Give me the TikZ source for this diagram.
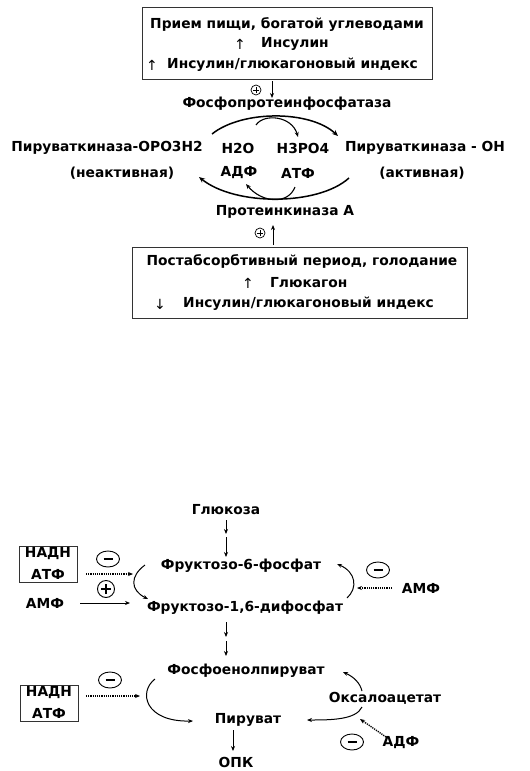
\documentclass[tikz,border=0pt]{standalone}
\usepackage{fontspec}
\setmainfont{DejaVu Sans}
\usetikzlibrary{arrows.meta,shapes.geometric}
\tikzset{
  lbl/.style={font=\fontsize{13.8}{15}\selectfont\bfseries, inner sep=0pt, anchor=center},
  box/.style={draw=black!80, line width=0.9pt, inner sep=0pt},
  arr/.style={-{Stealth[length=5pt,width=4pt]}, line width=0.8pt},
  bigarc/.style={-{Stealth[length=6pt,width=5pt]}, line width=1.5pt},
  dotarr/.style={-{Stealth[length=5pt,width=4pt]}, line width=1.4pt, dash pattern=on 1.2pt off 1pt},
  smallplus/.style={circle, draw, line width=0.7pt, minimum size=10pt, inner sep=0pt,
     path picture={\draw[line width=1pt] ([xshift=-3pt]path picture bounding box.center) -- ([xshift=3pt]path picture bounding box.center);
                   \draw[line width=1pt] ([yshift=-3pt]path picture bounding box.center) -- ([yshift=3pt]path picture bounding box.center);}},
  bigplus/.style={circle, draw, line width=0.9pt, minimum size=17pt, inner sep=0pt,
     path picture={\draw[line width=2.3pt] ([xshift=-5pt]path picture bounding box.center) -- ([xshift=5pt]path picture bounding box.center);
                   \draw[line width=2.3pt] ([yshift=-5pt]path picture bounding box.center) -- ([yshift=5pt]path picture bounding box.center);}},
  minusell/.style={ellipse, draw, line width=0.9pt, minimum width=23pt, minimum height=16pt, inner sep=0pt,
     path picture={\draw[line width=2.4pt] ([xshift=-4.5pt]path picture bounding box.center) -- ([xshift=4.5pt]path picture bounding box.center);}},
  thinar/.style={font=\fontsize{14}{15}\selectfont, inner sep=0pt}
}
\begin{document}
\begin{tikzpicture}[x=1pt,y=-1pt]
\useasboundingbox (0,0) rectangle (530,771);
\fill[white] (0,0) rectangle (530,771);

% ---------- upper part ----------
\node[box, minimum width=290pt, minimum height=72pt] (topbox) at (287,43) {};
\node[lbl] (t1) at (287,25) {Прием пищи, богатой углеводами};
\node[thinar] (t2a) at (240,44) {↑};
\node[lbl, anchor=west] (t2) at (261,44) {Инсулин};
\node[thinar] (t3a) at (152,65) {↑};
\node[lbl, anchor=west] (t3) at (167,65) {Инсулин/глюкагоновый индекс};

\node[smallplus] (p1) at (256,90) {};
\node[lbl] (fpf) at (287,104) {Фосфопротеинфосфатаза};
\coordinate (a1s) at (272,81);
\coordinate (a1e) at (272,98);
\draw[arr] (a1s) -- (a1e);

\node[lbl] (pkp) at (107,148) {Пируваткиназа-ОРО3Н2};
\node[lbl] (pkpb) at (122,173) {(неактивная)};
\node[lbl] (h2o) at (238,148) {H2O};
\node[lbl] (h3po4) at (303,148) {H3PO4};
\node[lbl] (adf1) at (239,173) {АДФ};
\node[lbl] (atf1) at (298,173) {АТФ};
\node[lbl] (pkoh) at (425,148) {Пируваткиназа - ОН};
\node[lbl] (pkohb) at (422,173) {(активная)};
\node[lbl] (pka) at (285,212) {Протеинкиназа А};

\coordinate (u1s) at (212,134);
\coordinate (u1e) at (338,136);
\draw[bigarc] (u1s) .. controls (242,110) and (310,110) .. (u1e);
\coordinate (u2s) at (256,125);
\coordinate (u2e) at (298,137);
\draw[-{Stealth[length=5pt,width=4pt]}, line width=1.1pt] (u2s) .. controls (264,113) and (292,116) .. (u2e);
\coordinate (l1s) at (349,178);
\coordinate (l1e) at (199,177);
\draw[bigarc] (l1s) .. controls (318,206) and (235,206) .. (l1e);
\coordinate (l2s) at (295,187);
\coordinate (l2e) at (246,184);
\draw[-{Stealth[length=5pt,width=4pt]}, line width=1.1pt] (l2s) .. controls (288,205) and (262,203) .. (l2e);

\node[smallplus] (p2) at (260,233) {};
\coordinate (a2s) at (273,245);
\coordinate (a2e) at (273,225);
\draw[arr] (a2s) -- (a2e);

\node[box, minimum width=335pt, minimum height=71pt] (botbox) at (299.5,282.5) {};
\node[lbl] (b1) at (302,261) {Постабсорбтивный период, голодание};
\node[thinar] (b2a) at (248,283) {↑};
\node[lbl, anchor=west] (b2) at (270,283) {Глюкагон};
\node[thinar] (b3a) at (160,304) {↓};
\node[lbl, anchor=west] (b3) at (183,304) {Инсулин/глюкагоновый индекс};

% ---------- lower part ----------
\node[lbl] (glc) at (226,510) {Глюкоза};
\coordinate (g1) at (226,520);
\coordinate (g2) at (226,534);
\coordinate (g3) at (226,537);
\coordinate (g4) at (226,557);
\draw[arr] (g1) -- (g2);
\draw[arr] (g3) -- (g4);

\node[lbl] (f6p) at (241,566) {Фруктозо-6-фосфат};
\node[lbl] (f16) at (245,608) {Фруктозо-1,6-дифосфат};

\node[box, minimum width=58pt, minimum height=36pt] (nb1) at (48,564) {};
\node[lbl] (nb1a) at (48,554) {НАДН};
\node[lbl] (nb1b) at (48,574) {АТФ};
\node[minusell] (m1) at (108,559) {};
\coordinate (d1s) at (86,574);
\coordinate (d1e) at (133,574);
\draw[dotarr] (d1s) -- (d1e);
\node[bigplus] (pl1) at (106,589) {};
\node[lbl] (amf1) at (45,603) {АМФ};
\coordinate (amfs) at (80,603);
\coordinate (amfe) at (130,603);
\draw[arr] (amfs) -- (amfe);

\coordinate (c1s) at (145,565);
\coordinate (c1e) at (148,599);
\draw[arr, line width=1pt] (c1s) .. controls (130,576) and (130,590) .. (c1e);
\coordinate (c2s) at (347,598);
\coordinate (c2e) at (337,564);
\draw[arr, line width=1pt] (c2s) .. controls (358,588) and (356,572) .. (c2e);

\node[minusell] (m2) at (378,570) {};
\node[lbl] (amf2) at (421,588) {АМФ};
\coordinate (d2s) at (392,588);
\coordinate (d2e) at (357,588);
\draw[dotarr] (d2s) -- (d2e);

\coordinate (h1) at (226,622);
\coordinate (h2) at (226,637);
\coordinate (h3) at (226,641);
\coordinate (h4) at (226,656);
\draw[arr] (h1) -- (h2);
\draw[arr] (h3) -- (h4);

\node[lbl] (pep) at (246,671) {Фосфоенолпируват};
\node[lbl] (pyr) at (248,720) {Пируват};
\node[lbl] (opk) at (236,762) {ОПК};
\coordinate (py1) at (233,730);
\coordinate (py2) at (233,751);
\draw[arr] (py1) -- (py2);

\node[box, minimum width=58pt, minimum height=36pt] (nb2) at (49,703) {};
\node[lbl] (nb2a) at (49,693) {НАДН};
\node[lbl] (nb2b) at (49,713) {АТФ};
\node[minusell] (m3) at (110,680) {};
\coordinate (d3s) at (86,696);
\coordinate (d3e) at (140,696);
\draw[dotarr] (d3s) -- (d3e);

\coordinate (c3s) at (155,679);
\coordinate (c3e) at (193,721);
\draw[arr, line width=1pt] (c3s) .. controls (138,692) and (145,722) .. (c3e);

\node[lbl] (oaa) at (385,698) {Оксалоацетат};
\coordinate (c4s) at (362,691);
\coordinate (c4e) at (343,672);
\draw[arr, line width=1pt] (c4s) .. controls (360,683) and (354,677) .. (c4e);
\coordinate (c5s) at (362,707);
\coordinate (c5e) at (307,720);
\draw[arr, line width=1pt] (c5s) .. controls (356,720) and (330,720) .. (c5e);

\node[minusell] (m4) at (352,742) {};
\node[lbl] (adf2) at (401,743) {АДФ};
\coordinate (d4s) at (386,737);
\coordinate (d4e) at (360,719);
\draw[dotarr] (d4s) -- (d4e);
\end{tikzpicture}
\end{document}
